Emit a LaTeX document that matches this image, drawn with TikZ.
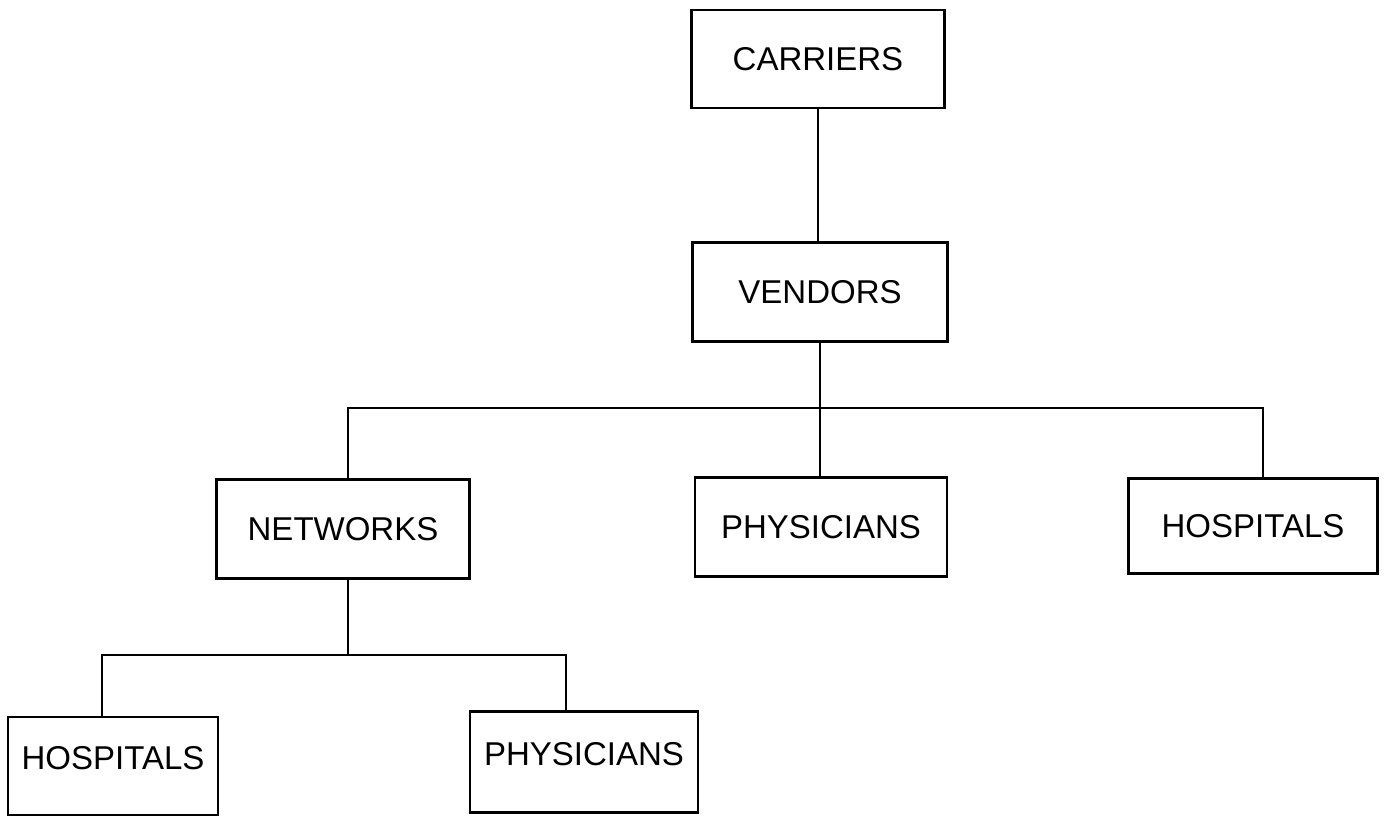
\documentclass[tikz,border=0pt]{standalone}
\usepackage{fontspec}
\setmainfont{Liberation Sans}
\usetikzlibrary{positioning}

\tikzset{
  box/.style={draw, line width=2.4pt, inner sep=0pt, font=\fontsize{33}{38}\selectfont},
  lowbox/.style={box, text depth=16pt},
  link/.style={line width=1.1pt},
}

\begin{document}
\begin{tikzpicture}[x=1pt, y=-1pt]
\useasboundingbox (0,0) rectangle (1388,817);

% top of the tree
\node[box, minimum width=253pt, minimum height=98pt] (carriers) at (818,59) {CARRIERS};
\node[box, minimum width=255pt, minimum height=99pt] (vendors) at (820,292) {VENDORS};

% second row
\node[box, minimum width=253pt, minimum height=99pt] (networks) at (343,529) {NETWORKS};
\node[box, minimum width=252pt, minimum height=99pt] (physA) at (821,527) {PHYSICIANS};
\node[box, minimum width=249pt, minimum height=95pt] (hospA) at (1253,526) {HOSPITALS};

% under the networks
\node[lowbox, minimum width=210pt, minimum height=98pt] (hospB) at (113,766) {HOSPITALS};
\node[lowbox, minimum width=228pt, minimum height=101pt] (physB) at (584,762) {PHYSICIANS};

% bus lines
\coordinate (busL) at (348,408);
\coordinate (busR) at (1263,408);
\coordinate (subL) at (102,655);
\coordinate (subR) at (566,655);

\draw[link] (carriers) -- (carriers.south |- vendors.north);
\draw[link] (vendors) -- (vendors.south |- physA.north);
\draw[link] (networks.north -| busL) -- (busL) -- (busR) -- (busR |- hospA.north);
\draw[link] (networks.south -| busL) -- (busL |- subL);
\draw[link] (hospB.north -| subL) -- (subL) -- (subR) -- (physB.north -| subR);

\end{tikzpicture}
\end{document}
